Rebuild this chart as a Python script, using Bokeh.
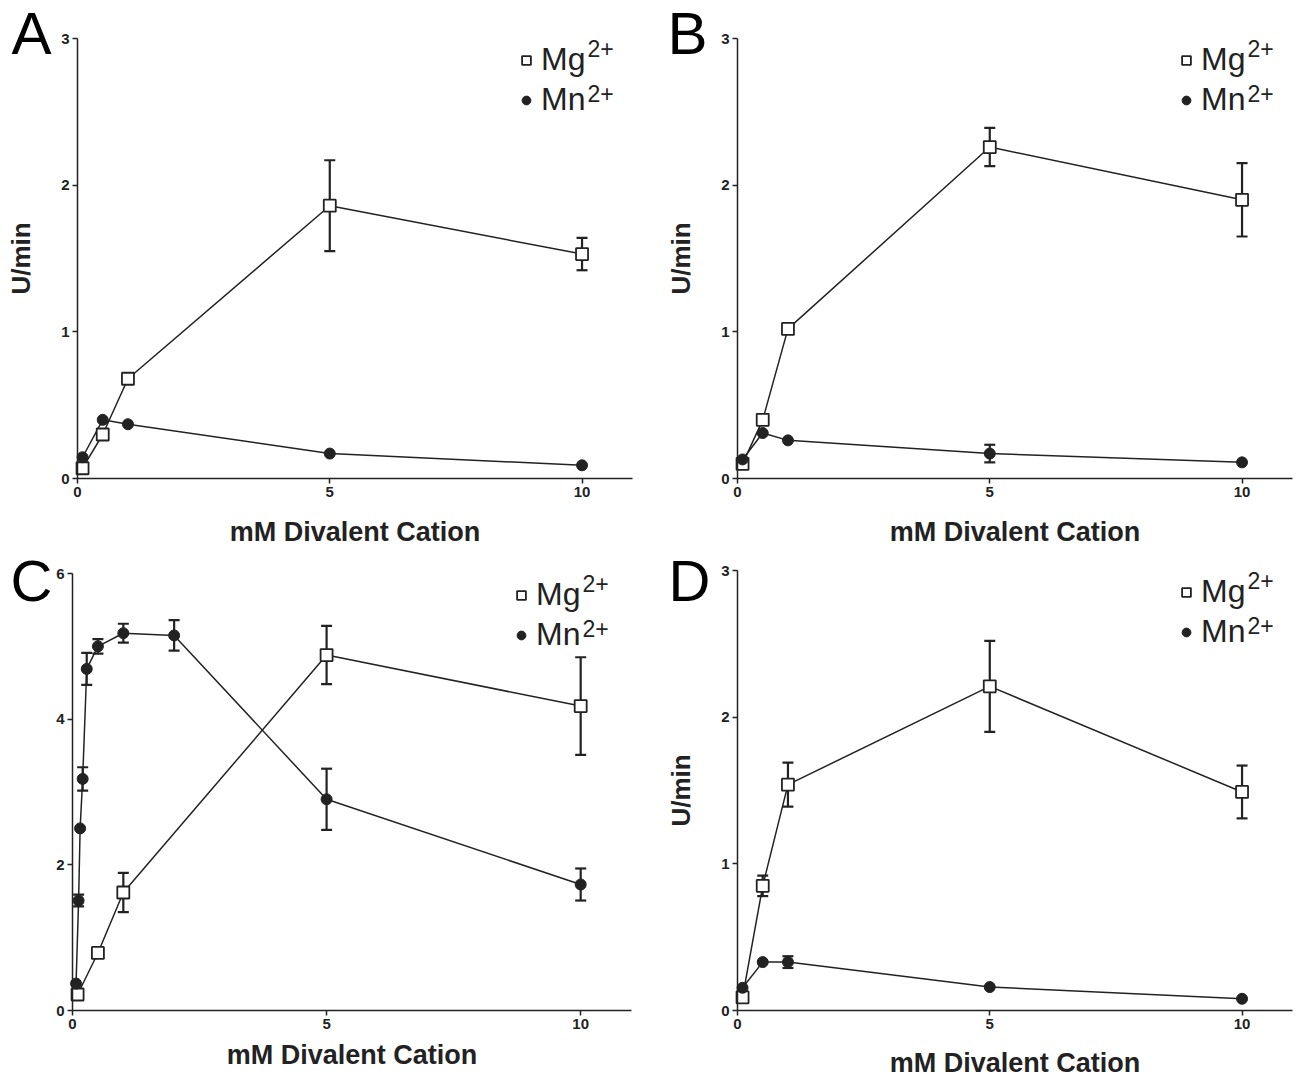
from bokeh.plotting import figure
from bokeh.models import (Range1d, FixedTicker, Whisker, TeeHead, ColumnDataSource,
                          Legend, LegendItem, Label, LinearAxis)
from bokeh.layouts import column, row
from bokeh.embed import file_html
from bokeh.resources import INLINE

# ---------------- data ----------------
conc = [0.1, 0.5, 1, 5, 10]

# Panel A
a_mg = [0.07, 0.30, 0.68, 1.86, 1.53]
a_mg_err = [0.0, 0.02, 0.03, 0.31, 0.11]
a_mn = [0.145, 0.40, 0.37, 0.17, 0.09]
a_mn_err = [0.0, 0.0, 0.0, 0.0, 0.0]

# Panel B
b_mg = [0.10, 0.40, 1.02, 2.26, 1.90]
b_mg_err = [0.0, 0.02, 0.02, 0.13, 0.25]
b_mn = [0.13, 0.31, 0.26, 0.17, 0.11]
b_mn_err = [0.0, 0.0, 0.0, 0.06, 0.0]

# Panel C
c_mg_conc = [0.1, 0.5, 1, 5, 10]
c_mg = [0.22, 0.79, 1.62, 4.88, 4.18]
c_mg_err = [0.0, 0.0, 0.27, 0.40, 0.67]
c_mn_conc = [0.07, 0.12, 0.15, 0.2, 0.28, 0.5, 1, 2, 5, 10]
c_mn = [0.37, 1.51, 2.50, 3.18, 4.69, 5.00, 5.18, 5.15, 2.90, 1.73]
c_mn_err = [0.0, 0.08, 0.0, 0.16, 0.22, 0.10, 0.13, 0.21, 0.42, 0.22]

# Panel D
d_mg = [0.09, 0.85, 1.54, 2.21, 1.49]
d_mg_err = [0.0, 0.07, 0.15, 0.31, 0.18]
d_mn = [0.155, 0.33, 0.33, 0.16, 0.08]
d_mn_err = [0.0, 0.0, 0.04, 0.0, 0.0]

x_max = 11
x_ticks = [0, 5, 10]
y_ticks_3 = [0, 1, 2, 3]
y_ticks_6 = [0, 2, 4, 6]
x_label = "mM Divalent Cation"
y_label = "U/min"

INK = "#222222"
FONT = "Liberation Sans"
BASE_K = 0.38  # svg alphabetic-baseline correction (fraction of font size)


def add_errors(p, xs, ys, errs):
    bx, up, lo = [], [], []
    for x, y, e in zip(xs, ys, errs):
        if e > 0:
            bx.append(x)
            up.append(y + e)
            lo.append(y - e)
    if not bx:
        return
    src = ColumnDataSource(dict(x=bx, upper=up, lower=lo))
    w = Whisker(base="x", upper="upper", lower="lower", source=src, dimension="height",
                line_width=2.2, line_color=INK,
                upper_head=TeeHead(size=11, line_width=2.2, line_color=INK),
                lower_head=TeeHead(size=11, line_width=2.2, line_color=INK))
    p.add_layout(w)


def style_axis(ax):
    ax.axis_line_color = INK
    ax.axis_line_width = 1.5
    ax.major_tick_line_color = INK
    ax.major_tick_line_width = 1.5
    ax.major_tick_out = 5
    ax.major_tick_in = 0
    ax.minor_tick_line_color = None
    ax.major_label_text_font = FONT
    ax.major_label_text_font_style = "bold"
    ax.major_label_text_font_size = "15px"
    ax.major_label_text_color = INK
    ax.major_label_standoff = 3
    ax.axis_label_text_font = FONT
    ax.axis_label_text_font_style = "bold"
    ax.axis_label_text_color = INK


def panel(letter, letter_x, letter_base, letter_size, xs_mg, mg, mg_err, xs_mn, mn, mn_err,
          y_max, y_ticks, ylabel, W, H, px0, pxe, pyt, pyb, x_standoff, y_standoff):
    # px0/pxe: canvas pixel of x=0 and x=x_max; pyt/pyb: pixel of y=y_max and y=0
    sx = (pxe - px0) / x_max
    sy = (pyb - pyt) / y_max
    xr = Range1d(-px0 / sx, x_max + (W - pxe) / sx)
    yr = Range1d(-(H - pyb) / sy, y_max + pyt / sy)
    p = figure(width=W, height=H, x_range=xr, y_range=yr,
               output_backend="svg", toolbar_location=None,
               x_axis_location=None, y_axis_location=None,
               min_border=0, min_border_left=0, min_border_right=0,
               min_border_top=0, min_border_bottom=0)
    p.outline_line_color = None
    p.grid.visible = False
    p.background_fill_color = "white"
    p.border_fill_color = "white"

    xa = LinearAxis(fixed_location=0, bounds=(0, x_max), ticker=FixedTicker(ticks=x_ticks),
                    axis_label=x_label)
    style_axis(xa)
    xa.axis_label_text_font_size = "27px"
    xa.axis_label_standoff = x_standoff
    p.add_layout(xa, "below")

    ya = LinearAxis(fixed_location=0, bounds=(0, y_max), ticker=FixedTicker(ticks=y_ticks))
    style_axis(ya)
    if ylabel:
        ya.axis_label = ylabel
        ya.axis_label_text_font_size = "26px"
        ya.axis_label_standoff = y_standoff
    p.add_layout(ya, "left")

    # lines, error bars, markers
    p.line(xs_mg, mg, line_color=INK, line_width=1.5)
    p.line(xs_mn, mn, line_color=INK, line_width=1.5)
    add_errors(p, xs_mg, mg, mg_err)
    add_errors(p, xs_mn, mn, mn_err)
    sq = p.scatter(xs_mg, mg, marker="square", size=12, fill_color="white",
                   line_color=INK, line_width=1.8)
    ci = p.scatter(xs_mn, mn, marker="circle", size=11, fill_color=INK,
                   line_color=INK, line_width=1)

    # legend
    leg = Legend(items=[LegendItem(label="Mg", renderers=[sq]),
                        LegendItem(label="Mn", renderers=[ci])],
                 location=(px0 + 438, H - pyt - 80),
                 label_text_font=FONT, label_text_font_size="32px", label_text_color=INK,
                 glyph_width=22, glyph_height=22, label_standoff=4,
                 padding=0, margin=0, spacing=3,
                 border_line_color=None, background_fill_alpha=0)
    p.add_layout(leg)
    for yoff in (19, 64):
        p.add_layout(Label(x=px0 + 510, y=H - (pyt + yoff - round(BASE_K * 23)),
                           x_units="screen", y_units="screen",
                           text="2+", text_font=FONT, text_font_size="23px",
                           text_color=INK, text_baseline="alphabetic"))

    # panel letter
    p.add_layout(Label(x=letter_x, y=H - (letter_base - round(BASE_K * letter_size)),
                       x_units="screen", y_units="screen",
                       text=letter, text_font=FONT, text_font_size=f"{letter_size}px",
                       text_color="black", text_baseline="alphabetic"))
    return p


pa = panel("A", 11, 56, 60, conc, a_mg, a_mg_err, conc, a_mn, a_mn_err, 3, y_ticks_3, y_label,
           660, 548, 77, 632, 38, 478, 17, 22)
pb = panel("B", 7, 56, 60, conc, b_mg, b_mg_err, conc, b_mn, b_mn_err, 3, y_ticks_3, y_label,
           645, 548, 77, 632, 38, 478, 17, 22)
pc = panel("C", 10, 54, 58, c_mg_conc, c_mg, c_mg_err, c_mn_conc, c_mn, c_mn_err, 6, y_ticks_6,
           None, 660, 529, 72, 631, 25, 462, 8, 22)
pd = panel("D", 8, 54, 58, conc, d_mg, d_mg_err, conc, d_mn, d_mn_err, 3, y_ticks_3, y_label,
           645, 529, 77, 632, 22, 462, 16, 22)

layout = column(row(pa, pb), row(pc, pd))
open("out.html", "w").write(file_html(layout, INLINE))
